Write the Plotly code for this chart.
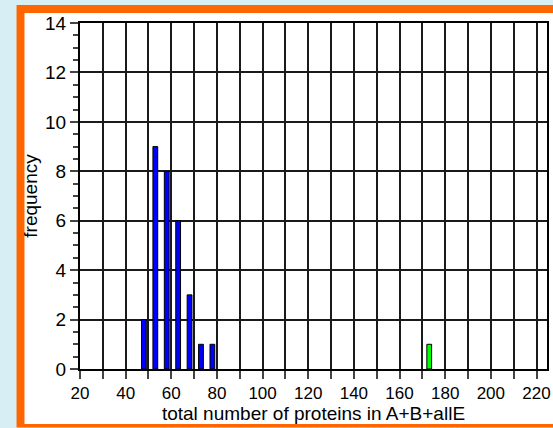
import plotly.graph_objects as go

# Histogram of protein counts (bin centres and frequencies)
bin_centers = [48, 53, 58, 63, 68, 73, 78]
frequencies = [2, 9, 8, 6, 3, 1, 1]
outlier_centers = [173]
outlier_freq = [1]

x_ticks = [20, 40, 60, 80, 100, 120, 140, 160, 180, 200, 220]
y_ticks = [0, 2, 4, 6, 8, 10, 12, 14]

W, H = 553, 428
L, R, T, B = 80, 2, 23, 59
pw, ph = W - L - R, H - T - B


def px_x(p):
    return (p - L) / pw


def px_y(p):
    return (H - B - p) / ph


fig = go.Figure()
fig.add_trace(go.Bar(x=bin_centers, y=frequencies, width=2.1,
                     marker=dict(color="#0000ff", line=dict(color="black", width=1))))
fig.add_trace(go.Bar(x=outlier_centers, y=outlier_freq, width=2.1,
                     marker=dict(color="#00ff00", line=dict(color="black", width=1))))

# orange panel with a white inset behind the chart
fig.add_shape(type="rect", xref="paper", yref="paper",
              x0=px_x(16), x1=px_x(580), y0=px_y(5), y1=px_y(427.5),
              line=dict(width=0), fillcolor="#ff6600", layer="below")
fig.add_shape(type="rect", xref="paper", yref="paper",
              x0=px_x(24), x1=px_x(580), y0=px_y(13), y1=px_y(424),
              line=dict(width=0), fillcolor="white", layer="below")

fig.update_layout(
    width=W, height=H,
    margin=dict(l=L, r=R, t=T, b=B),
    paper_bgcolor="#d6eef4",
    plot_bgcolor="rgba(0,0,0,0)",
    showlegend=False,
    font=dict(family="Liberation Sans, Arial, sans-serif", size=17, color="black"),
)
fig.update_xaxes(
    range=[20, 224.6], tickvals=x_ticks, ticks="outside", ticklen=8, tickwidth=2,
    tickfont=dict(size=17),
    showgrid=True, gridcolor="#1a1a1a", gridwidth=2,
    minor=dict(dtick=10, tick0=0, ticks="outside", ticklen=8, tickwidth=2,
               showgrid=True, gridcolor="#1a1a1a", gridwidth=2),
    showline=True, linecolor="black", linewidth=2, mirror=True,
    zeroline=False,
    title=dict(text="total number of proteins in A+B+allE", font=dict(size=19), standoff=0),
)
fig.update_yaxes(
    range=[0, 14], tickvals=y_ticks, ticks="outside", ticklen=8, tickwidth=2,
    tickfont=dict(size=19),
    showgrid=True, gridcolor="#1a1a1a", gridwidth=2,
    minor=dict(dtick=0.5, ticks="outside", ticklen=5, tickwidth=2, showgrid=False),
    showline=True, linecolor="black", linewidth=2, mirror=True,
    zeroline=False,
    title=dict(text="frequency", font=dict(size=19), standoff=2),
)

fig.write_html("out.html")
